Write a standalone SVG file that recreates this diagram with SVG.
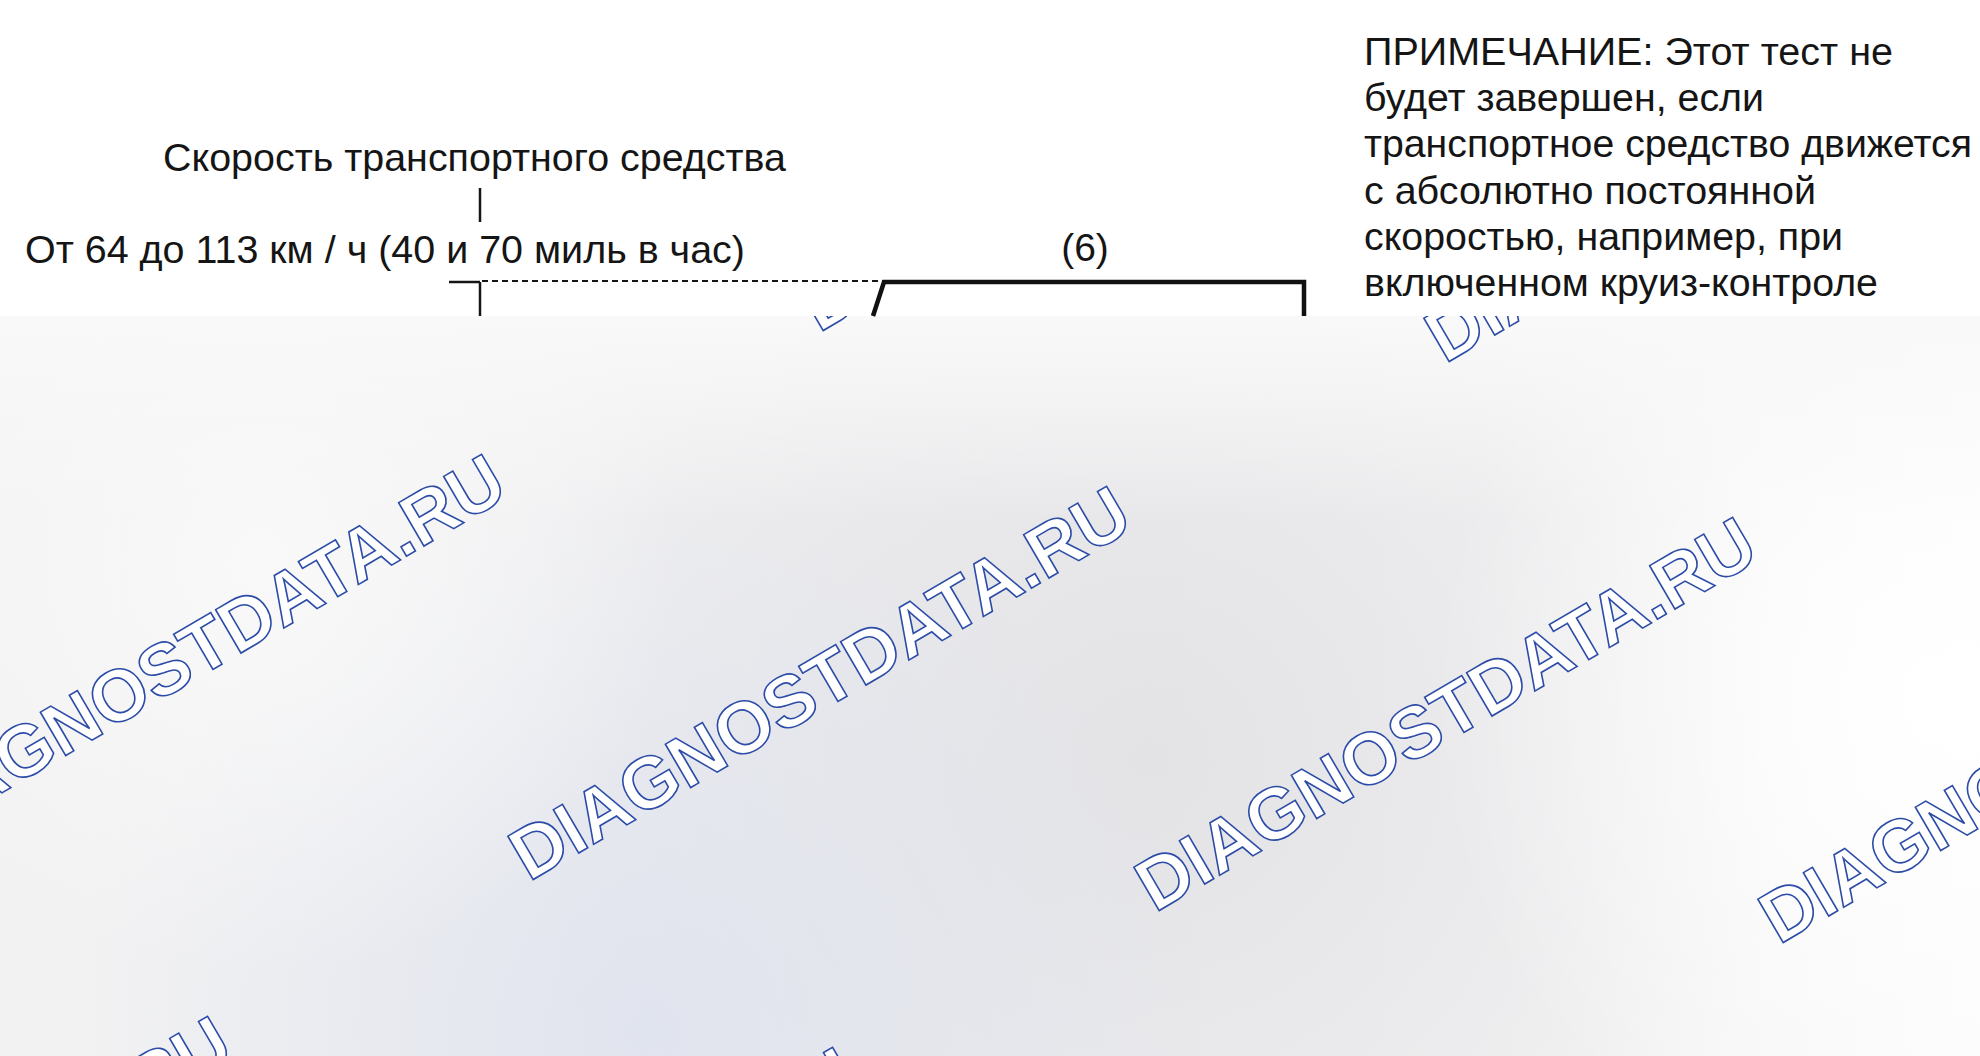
<svg xmlns="http://www.w3.org/2000/svg" width="1980" height="1056" viewBox="0 0 1980 1056">
  <defs>
    <style>
      .lbl { font-family: "Liberation Sans", Arial, sans-serif; font-size: 39px; fill: #151515; }
      .wm { font-family: "Liberation Sans", Arial, sans-serif; font-weight: bold; font-size: 73px; fill: #ffffff; stroke: #2c4ca8; stroke-width: 1.6; }
      .thin { stroke: #151515; stroke-width: 2.5; fill: none; }
    </style>
    <clipPath id="grayClip"><rect x="0" y="316" width="1980" height="740"/></clipPath>
    <linearGradient id="base" x1="0" y1="0" x2="1" y2="0">
      <stop offset="0" stop-color="#f2f2f3"/>
      <stop offset="0.45" stop-color="#eeeef0"/>
      <stop offset="0.75" stop-color="#f1f1f2"/>
      <stop offset="1" stop-color="#fbfbfb"/>
    </linearGradient>
    <radialGradient id="dark" cx="1150" cy="760" r="650" gradientUnits="userSpaceOnUse">
      <stop offset="0" stop-color="#e1e1e4" stop-opacity="0.85"/>
      <stop offset="1" stop-color="#e1e1e4" stop-opacity="0"/>
    </radialGradient>
    <radialGradient id="blue" cx="650" cy="1030" r="560" gradientUnits="userSpaceOnUse">
      <stop offset="0" stop-color="#dfe3ee" stop-opacity="0.9"/>
      <stop offset="1" stop-color="#dfe3ee" stop-opacity="0"/>
    </radialGradient>
    <radialGradient id="lightL" cx="260" cy="560" r="420" gradientUnits="userSpaceOnUse">
      <stop offset="0" stop-color="#fafafa" stop-opacity="0.9"/>
      <stop offset="1" stop-color="#fafafa" stop-opacity="0"/>
    </radialGradient>
    <radialGradient id="lightR" cx="1950" cy="700" r="520" gradientUnits="userSpaceOnUse">
      <stop offset="0" stop-color="#ffffff" stop-opacity="1"/>
      <stop offset="1" stop-color="#ffffff" stop-opacity="0"/>
    </radialGradient>
    <linearGradient id="topfade" x1="0" y1="316" x2="0" y2="520" gradientUnits="userSpaceOnUse">
      <stop offset="0" stop-color="#f9f9f9" stop-opacity="1"/>
      <stop offset="1" stop-color="#f9f9f9" stop-opacity="0"/>
    </linearGradient>
  </defs>

  <rect id="background" x="0" y="0" width="1980" height="1056" fill="#ffffff"/>

  <g id="overlay">
    <rect x="0" y="316" width="1980" height="740" fill="url(#base)"/>
    <rect x="0" y="316" width="1980" height="740" fill="url(#dark)"/>
    <rect x="0" y="316" width="1980" height="740" fill="url(#blue)"/>
    <rect x="0" y="316" width="1980" height="740" fill="url(#lightL)"/>
    <rect x="0" y="316" width="1980" height="740" fill="url(#lightR)"/>
    <rect x="0" y="316" width="1980" height="740" fill="url(#topfade)"/>
  </g>

  <g id="watermarks" clip-path="url(#grayClip)">
    <text class="wm" x="-96" y="850" transform="rotate(-30.3 -96 850)">DIAGNOSTDATA.RU</text>
    <text class="wm" x="529" y="882" transform="rotate(-30.3 529 882)">DIAGNOSTDATA.RU</text>
    <text class="wm" x="1155" y="913" transform="rotate(-30.3 1155 913)">DIAGNOSTDATA.RU</text>
    <text class="wm" x="1779" y="945" transform="rotate(-30.3 1779 945)">DIAGNOSTDATA.RU</text>
    <text class="wm" x="819" y="333" transform="rotate(-30.3 819 333)">DIAGNOSTDATA.RU</text>
    <text class="wm" x="1445" y="364" transform="rotate(-30.3 1445 364)">DIAGNOSTDATA.RU</text>
    <text class="wm" x="-370" y="1412" transform="rotate(-30.3 -370 1412)">DIAGNOSTDATA.RU</text>
    <text class="wm" x="255" y="1443" transform="rotate(-30.3 255 1443)">DIAGNOSTDATA.RU</text>
  </g>

  <g id="speed-label">
    <text class="lbl" x="163" y="171" textLength="623" lengthAdjust="spacingAndGlyphs">Скорость транспортного средства</text>
    <line class="thin" x1="480" y1="188" x2="480" y2="222"/>
  </g>

  <g id="speed-range">
    <text class="lbl" x="25" y="263" textLength="720" lengthAdjust="spacingAndGlyphs">От 64 до 113 км / ч (40 и 70 миль в час)</text>
  </g>

  <g id="connectors">
    <line class="thin" x1="449" y1="282" x2="480" y2="282"/>
    <line class="thin" x1="480" y1="282" x2="480" y2="316"/>
    <line x1="482" y1="281" x2="884" y2="281" stroke="#151515" stroke-width="2" stroke-dasharray="6 4"/>
    <polyline points="873,316 884,282 1304,282 1304,316" fill="none" stroke="#111111" stroke-width="4.5" stroke-linejoin="miter"/>
  </g>

  <g id="phase-6">
    <text class="lbl" x="1085" y="261" text-anchor="middle">(6)</text>
  </g>

  <g id="note">
    <text class="lbl" x="1364" y="65" textLength="529" lengthAdjust="spacingAndGlyphs">ПРИМЕЧАНИЕ: Этот тест не</text>
    <text class="lbl" x="1364" y="111" textLength="400" lengthAdjust="spacingAndGlyphs">будет завершен, если</text>
    <text class="lbl" x="1364" y="157" textLength="608" lengthAdjust="spacingAndGlyphs">транспортное средство движется</text>
    <text class="lbl" x="1364" y="204" textLength="452" lengthAdjust="spacingAndGlyphs">с абсолютно постоянной</text>
    <text class="lbl" x="1364" y="250" textLength="479" lengthAdjust="spacingAndGlyphs">скоростью, например, при</text>
    <text class="lbl" x="1364" y="296" textLength="514" lengthAdjust="spacingAndGlyphs">включенном круиз-контроле</text>
  </g>
</svg>
